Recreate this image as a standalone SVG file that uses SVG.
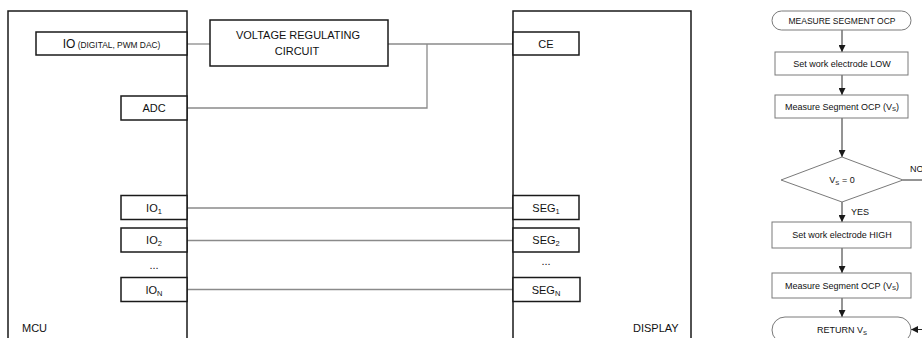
<svg xmlns="http://www.w3.org/2000/svg" width="922" height="338" viewBox="0 0 922 338">
<style>
.blk{fill:#fff;stroke:#1a1a1a;stroke-width:1.5}
.fc{fill:#fff;stroke:#7a7a7a;stroke-width:1}
.wire{fill:none;stroke:#8a8a8a;stroke-width:1.3}
.arr{fill:none;stroke:#2a2a2a;stroke-width:1}
text{font-family:"Liberation Sans",Arial,sans-serif;fill:#111}
.t11{font-size:11px}
.t9{font-size:9px}
.t85{font-size:8.5px}
.mid{text-anchor:middle}
</style>
<defs>
<marker id="ah" viewBox="0 0 10 10" refX="10" refY="5" markerWidth="7" markerHeight="7" markerUnits="userSpaceOnUse" orient="auto">
<path d="M0,0 L10,5 L0,10 z" fill="#1a1a1a"/>
</marker>
</defs>

<g id="connectors">
<path class="wire" d="M187,44 H210"/>
<path class="wire" d="M388,44 H513"/>
<path class="wire" d="M427,44 V108 H187"/>
<path class="wire" d="M187,208 H513"/>
<path class="wire" d="M187,240.5 H513"/>
<path class="wire" d="M187,289.5 H513"/>
<path class="arr" d="M842,30 V52" marker-end="url(#ah)"/>
<path class="arr" d="M842,75 V95" marker-end="url(#ah)"/>
<path class="arr" d="M842,118 V157" marker-end="url(#ah)"/>
<path class="arr" d="M842,202 V222" marker-end="url(#ah)"/>
<path class="arr" d="M842,248 V273" marker-end="url(#ah)"/>
<path class="arr" d="M842,298 V317" marker-end="url(#ah)"/>
<path class="arr" d="M903,180 H922"/>
<path class="arr" d="M922,329.5 H911" marker-end="url(#ah)"/>
</g>

<g id="mcu">
<path class="blk" d="M8,345 V11 H187 V345"/>
<text class="t11" x="22" y="332">MCU</text>
</g>
<g id="io">
<rect class="blk" x="36" y="32" width="151" height="23"/>
<text class="mid" x="111.5" y="48"><tspan font-size="12">IO</tspan><tspan font-size="8.4"> (DIGITAL, PWM DAC)</tspan></text>
</g>
<g id="adc">
<rect class="blk" x="121" y="96" width="66" height="24"/>
<text class="t11 mid" x="154" y="112">ADC</text>
</g>
<g id="io1">
<rect class="blk" x="121" y="195.5" width="66" height="24"/>
<text class="t11 mid" x="154" y="211.5">IO<tspan font-size="7.5" dy="2">1</tspan></text>
</g>
<g id="io2">
<rect class="blk" x="121" y="228" width="66" height="24"/>
<text class="t11 mid" x="154" y="244">IO<tspan font-size="7.5" dy="2">2</tspan></text>
</g>
<text class="t11 mid" x="154" y="269">...</text>
<g id="ion">
<rect class="blk" x="121" y="277.5" width="66" height="24"/>
<text class="t11 mid" x="154" y="293.5">IO<tspan font-size="7.5" dy="2">N</tspan></text>
</g>

<g id="vreg">
<rect class="blk" x="210" y="20" width="178" height="46"/>
<text class="t11 mid" x="298" y="38.5">VOLTAGE REGULATING</text>
<text class="t11 mid" x="297" y="55">CIRCUIT</text>
</g>

<g id="display">
<path class="blk" d="M513,345 V11 H691 V345"/>
<text class="t11" x="633" y="332">DISPLAY</text>
</g>
<g id="ce">
<rect class="blk" x="513" y="32" width="66" height="23"/>
<text class="t11 mid" x="546" y="48">CE</text>
</g>
<g id="seg1">
<rect class="blk" x="513" y="195.5" width="66" height="24"/>
<text class="t11 mid" x="546" y="211.5">SEG<tspan font-size="7.5" dy="2">1</tspan></text>
</g>
<g id="seg2">
<rect class="blk" x="513" y="228" width="66" height="24"/>
<text class="t11 mid" x="546" y="244">SEG<tspan font-size="7.5" dy="2">2</tspan></text>
</g>
<text class="t11 mid" x="546" y="265">...</text>
<g id="segn">
<rect class="blk" x="513" y="277.5" width="67" height="24"/>
<text class="t11 mid" x="546" y="293.5">SEG<tspan font-size="7.5" dy="2">N</tspan></text>
</g>

<g id="start">
<rect class="fc" x="772" y="11" width="139" height="19" rx="9.5"/>
<text class="t85 mid" x="842" y="23.5">MEASURE SEGMENT OCP</text>
</g>
<g id="low">
<rect class="fc" x="775" y="52" width="133" height="23"/>
<text class="t9 mid" x="842" y="66.5">Set work electrode LOW</text>
</g>
<g id="meas1">
<rect class="fc" x="775" y="95" width="133" height="23"/>
<text class="t9 mid" x="842" y="109.5">Measure Segment OCP (V<tspan font-size="6" dy="1.5">S</tspan><tspan dy="-1.5">)</tspan></text>
</g>
<g id="decision">
<polygon class="fc" points="781,180 842,157 903,180 842,202"/>
<text class="t9 mid" x="842" y="183">V<tspan font-size="6" dy="1.5">S</tspan><tspan dy="-1.5"> = 0</tspan></text>
<text class="t9" x="910" y="172">NO</text>
<text class="t9" x="851" y="214.5">YES</text>
</g>
<g id="high">
<rect class="fc" x="772" y="222" width="139" height="26"/>
<text class="t9 mid" x="842" y="238">Set work electrode HIGH</text>
</g>
<g id="meas2">
<rect class="fc" x="772" y="273" width="139" height="25"/>
<text class="t9 mid" x="842" y="288.5">Measure Segment OCP (V<tspan font-size="6" dy="1.5">S</tspan><tspan dy="-1.5">)</tspan></text>
</g>
<g id="return">
<rect class="fc" x="772" y="317" width="139" height="26" rx="13"/>
<text class="t9 mid" x="842" y="333">RETURN V<tspan font-size="6" dy="1.5">S</tspan></text>
</g>
</svg>
